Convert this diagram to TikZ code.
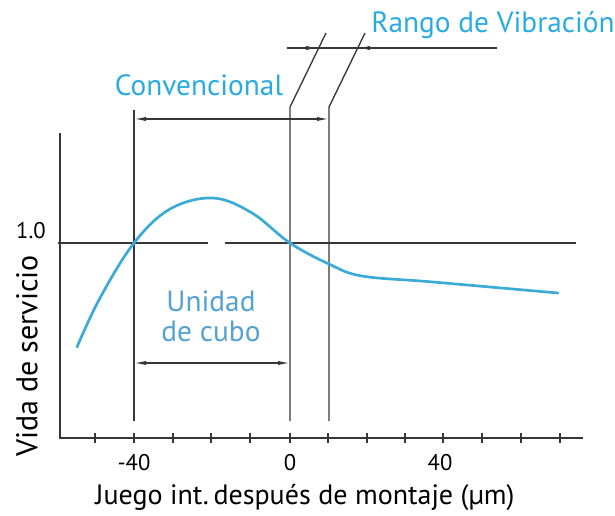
\documentclass[tikz,border=0pt]{standalone}
\usepackage{fontspec}
\setmainfont{PT Sans}
\usetikzlibrary{arrows.meta}

\definecolor{cyantext}{RGB}{41,171,226}
\definecolor{cubotext}{RGB}{84,162,210}
\definecolor{curveblue}{RGB}{58,170,215}
\definecolor{linegray}{RGB}{55,55,55}

\tikzset{every picture/.style={line width=0.75pt}}
\tikzset{
  guide/.style={draw=linegray, line width=1pt},
  axisline/.style={draw=linegray, line width=1.8pt},
  dimarrow/.style={draw=linegray, line width=1pt, -{Latex[length=9pt,width=3.2pt]}},
  dimboth/.style={draw=linegray, line width=1pt, {Latex[length=9pt,width=3.2pt]}-{Latex[length=9pt,width=3.2pt]}},
  bluetext/.style={text=cyantext, font=\fontsize{22}{24}\selectfont, inner sep=0.75pt},
  ticklabel/.style={text=black, font=\fontsize{17}{19}\selectfont, inner sep=0.75pt}
}

\begin{document}
\begin{tikzpicture}[x=0.75pt,y=0.75pt,yscale=-1,xscale=1]
\path[use as bounding box] (0,0) rectangle (615,515);

%Axes
\draw [axisline] (60,133) -- (60,438) -- (583,438) ;
%Ticks
\foreach \tx in {95,134,173,211,250,290,328,367,405,443,482,521,560} {
  \draw [guide] (\tx,433) -- (\tx,443) ;
}

%Level 1.0 line (with gap)
\draw [guide] (58,243) -- (208,243) ;
\draw [guide] (225,243) -- (576,243) ;

%Vertical guides
\draw [guide] (134,110) -- (134,421) ;
\draw [guide] (290,421) -- (290,107) -- (326,33) ;
\draw [guide] (329,421) -- (329,107) -- (365,33) ;

%Rango de Vibracion arrows
\draw [guide] (287,48) -- (497,48) ;
\draw [dimarrow] (287,48) -- (318,48) ;
\draw [dimarrow] (497,48) -- (358,48) ;

%Convencional arrow
\draw [dimboth] (134,119) -- (329,119) ;

%Unidad de cubo arrow
\draw [dimboth] (134,363) -- (290,363) ;

%Service life curve
\draw [curveblue, line width=2pt, line cap=round] plot [smooth, tension=0.6] coordinates
  {(77,347) (100,298) (134,243) (170,209) (213,198) (252,213) (290,243) (329,264) (362,276) (433,282) (558,293)} ;

% Text Nodes
\node [bluetext] (rango) at (493,25) {Rango de Vibración};
\node [bluetext] (conv) at (199,85) {Convencional};
\node [bluetext, text=cubotext, align=center, font=\fontsize{22}{22.5}\selectfont] (cubo) at (211,316) {Unidad\\de cubo};
\node [ticklabel] (uno) at (31,231) {1.0};
\node [ticklabel] (m40) at (134,463) {-40};
\node [ticklabel] (cero) at (290,463) {0};
\node [ticklabel] (p40) at (440,463) {40};
\node [font=\fontsize{21}{23}\selectfont, inner sep=0.75pt] (xlabel) at (305,497) {Juego int.\,después de montaje (µm)};
\node [font=\fontsize{22.5}{24}\selectfont, inner sep=0.75pt, rotate=90] (ylabel) at (27,356) {Vida de servicio};

\end{tikzpicture}
\end{document}
